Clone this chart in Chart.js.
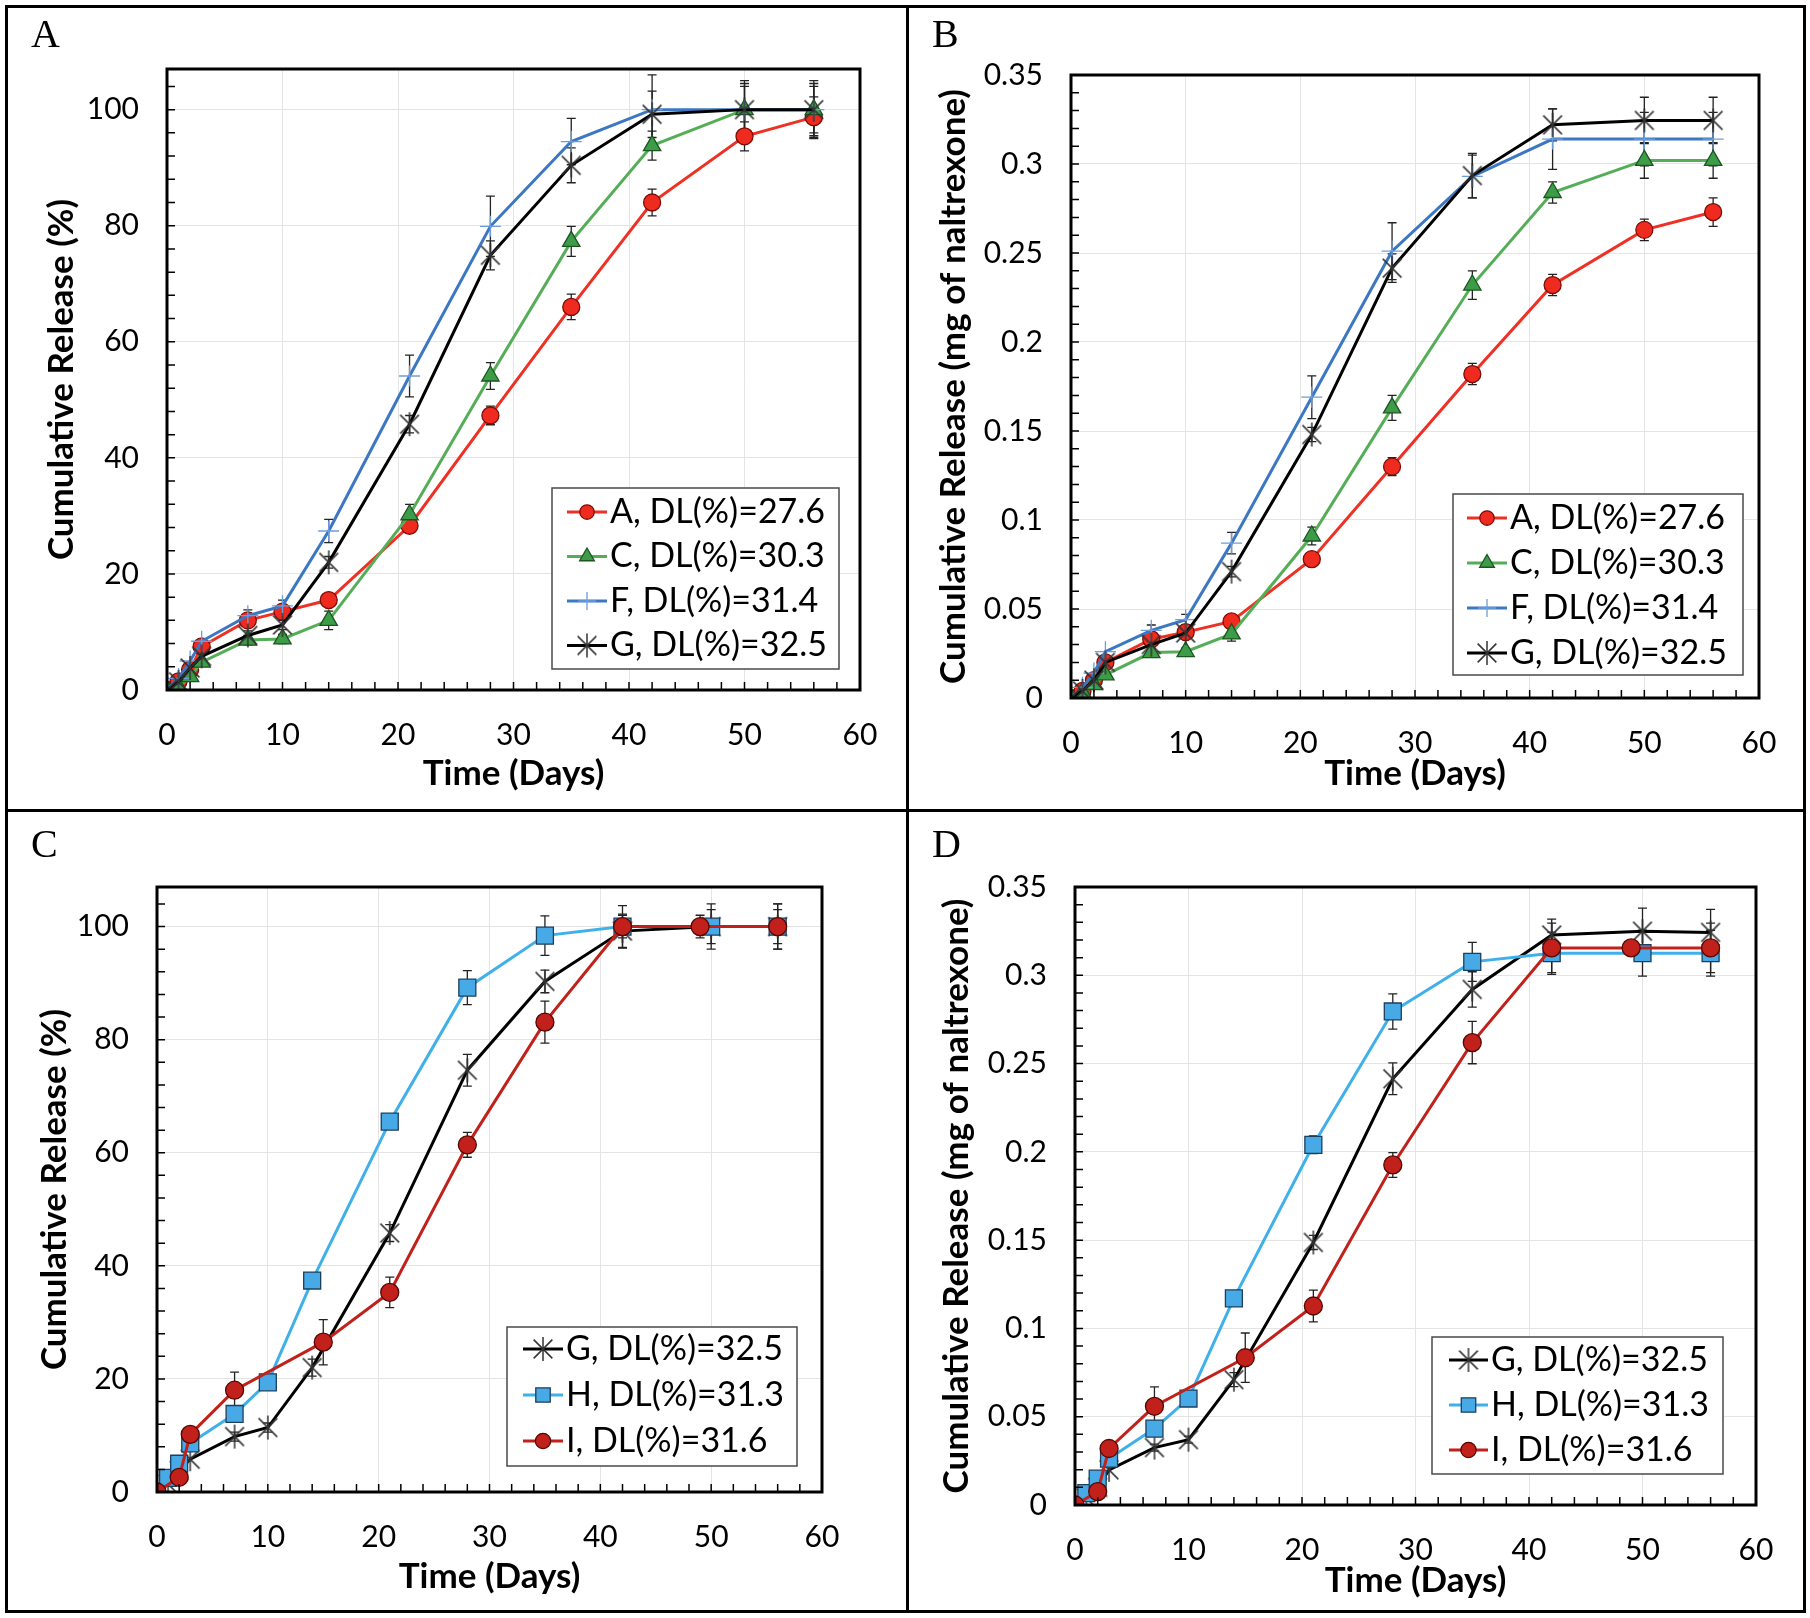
<!DOCTYPE html>
<html>
<head>
<meta charset="utf-8">
<script src="https://cdn.jsdelivr.net/npm/chart.js@4.4.1/dist/chart.umd.min.js"></script>
<style>
  body { margin: 0; background: #fff; }
  #page { position: relative; width: 1810px; height: 1618px; background: #fff; }
  .rule { position: absolute; background: #000; }
  canvas { position: absolute; }
  .tag { position: absolute; font-family: "Liberation Serif", serif; font-size: 40px; color: #000; line-height: 1; }
</style>
</head>
<body>
<div id="page">
  <div class="rule" style="left:5px;top:5px;width:1801px;height:3px"></div>
  <div class="rule" style="left:5px;top:1610px;width:1801px;height:3px"></div>
  <div class="rule" style="left:5px;top:5px;width:3px;height:1608px"></div>
  <div class="rule" style="left:1803px;top:5px;width:3px;height:1608px"></div>
  <div class="rule" style="left:906px;top:5px;width:3px;height:1608px"></div>
  <div class="rule" style="left:5px;top:809px;width:1801px;height:3px"></div>

  <canvas id="cA" width="897" height="800" style="left:8px;top:8px"></canvas>
  <canvas id="cB" width="895" height="800" style="left:909px;top:8px"></canvas>
  <canvas id="cC" width="897" height="797" style="left:8px;top:812px"></canvas>
  <canvas id="cD" width="895" height="797" style="left:909px;top:812px"></canvas>

  <div class="tag" style="left:31px;top:14px">A</div>
  <div class="tag" style="left:932px;top:14px">B</div>
  <div class="tag" style="left:31px;top:824px">C</div>
  <div class="tag" style="left:932px;top:824px">D</div>
</div>
<script>
// sampling days
const days = [0, 1, 2, 3, 7, 10, 14, 21, 28, 35, 42, 50, 56];
const daysI = [0, 2, 3, 7, 15, 21, 28, 35, 42, 49, 56];

// tick values
const xTicks = [0, 10, 20, 30, 40, 50, 60];
const yTicksPct = [0, 20, 40, 60, 80, 100];
const yTicksMg = [0, 0.05, 0.1, 0.15, 0.2, 0.25, 0.3, 0.35];

// legend labels
const labelA = 'A, DL(%)=27.6';
const labelC = 'C, DL(%)=30.3';
const labelF = 'F, DL(%)=31.4';
const labelG = 'G, DL(%)=32.5';
const labelH = 'H, DL(%)=31.3';
const labelI = 'I, DL(%)=31.6';

// panel A: cumulative release (%)
const pctA = [0, 1.5, 3.5, 7.5, 12, 13.5, 15.5, 28.3, 47.3, 66, 84, 95.4, 98.7];
const pctC = [0, 0.5, 2.3, 4.8, 8.6, 8.8, 12, 30.2, 54.1, 77.3, 93.8, 100, 100];
const pctF = [0, 2, 5, 8.4, 12.8, 14.5, 27.4, 54.1, 79.9, 94.5, 100, 100, 100];
const pctG = [0, 1.4, 3.8, 5.8, 9.4, 11.2, 22, 45.8, 74.9, 90.4, 99.2, 100, 100];
const errPctA = [0, 0, 0, 0, 0.8, 0.8, 1, 1, 1.6, 2.2, 2.3, 2.5, 3.5];
const errPctC = [0, 0, 0, 0, 0.8, 0.8, 1.6, 1.8, 2.3, 2.6, 2.5, 4, 4];
const errPctF = [0, 0, 0, 0, 1, 1, 2, 3.6, 5.2, 4, 6, 5, 5];
const errPctG = [0, 0, 0, 0, 0.8, 0.8, 1, 1.5, 2.5, 3, 4, 4.5, 4.5];

// panel B: cumulative release (mg)
const mgA = [0, 0.004, 0.01, 0.02, 0.033, 0.037, 0.043, 0.078, 0.13, 0.182, 0.232, 0.263, 0.273];
const mgC = [0, 0.003, 0.0075, 0.013, 0.0255, 0.026, 0.036, 0.091, 0.163, 0.232, 0.284, 0.302, 0.302];
const mgF = [0, 0.006, 0.014, 0.026, 0.038, 0.044, 0.087, 0.169, 0.251, 0.293, 0.314, 0.314, 0.314];
const mgG = [0, 0.004, 0.01, 0.02, 0.03, 0.0365, 0.071, 0.148, 0.2415, 0.2935, 0.322, 0.3245, 0.3245];
const errMgA = [0, 0, 0, 0, 0.002, 0.002, 0.003, 0.003, 0.005, 0.006, 0.006, 0.006, 0.008];
const errMgC = [0, 0, 0, 0, 0.002, 0.002, 0.004, 0.005, 0.007, 0.008, 0.006, 0.01, 0.01];
const errMgF = [0, 0, 0, 0, 0.003, 0.003, 0.006, 0.012, 0.016, 0.012, 0.017, 0.015, 0.015];
const errMgG = [0, 0, 0, 0, 0.002, 0.002, 0.003, 0.004, 0.008, 0.0125, 0.009, 0.013, 0.013];

// panel C: cumulative release (%)
const pctG2 = [0, 1.4, 3.8, 5.8, 9.8, 11.4, 22, 45.8, 74.6, 90.3, 99.2, 100, 100];
const pctH = [0, 2.5, 5, 8.6, 13.8, 19.4, 37.4, 65.5, 89.2, 98.4, 100, 100, 100];
const pctI = [0, 2.6, 10.2, 18, 26.5, 35.3, 61.4, 83.1, 100, 100, 100];
const errPctG2 = [0, 0, 0, 0, 0.8, 0.8, 1.5, 1.5, 2.8, 2, 3, 3, 3];
const errPctH = [0, 0, 0, 0, 1, 1, 1, 1.2, 3, 3.5, 2, 4, 4];
const errPctI = [0, 0, 0, 3.2, 4, 2.7, 2.2, 3.7, 3.7, 2, 4];

// panel D: cumulative release (mg)
const mgG2 = [0, 0.004, 0.01, 0.0199, 0.0325, 0.037, 0.071, 0.1487, 0.2414, 0.292, 0.3228, 0.325, 0.3243];
const mgH = [0, 0.0067, 0.0149, 0.0263, 0.0433, 0.0603, 0.117, 0.204, 0.2795, 0.3076, 0.3125, 0.3125, 0.3125];
const mgI = [0, 0.0076, 0.032, 0.0559, 0.0834, 0.1127, 0.1926, 0.2619, 0.3155, 0.3155, 0.3155];
const errMgG2 = [0, 0, 0, 0, 0.002, 0.002, 0.004, 0.004, 0.009, 0.01, 0.009, 0.013, 0.013];
const errMgH = [0, 0, 0, 0, 0.002, 0.002, 0.002, 0.005, 0.01, 0.011, 0.012, 0.013, 0.013];
const errMgI = [0, 0, 0, 0.011, 0.014, 0.009, 0.007, 0.012, 0.014, 0.004, 0.014];

Chart.defaults.font.family = 'Lato';
Chart.defaults.color = '#000';

function asterisk(size, color) {
  const c = document.createElement('canvas');
  c.width = c.height = size;
  const g = c.getContext('2d');
  const m = size / 2, r = size / 2 - 1, d = r * 0.78;
  g.strokeStyle = color;
  g.lineWidth = 1.5;
  g.beginPath();
  g.moveTo(m - d, m - d); g.lineTo(m + d, m + d);
  g.moveTo(m + d, m - d); g.lineTo(m - d, m + d);
  g.moveTo(m, m - r); g.lineTo(m, m + r);
  g.stroke();
  return c;
}

const looks = {
  A: { line: '#ee3124', fill: '#ef2b1f', edge: '#7d0d06', shape: 'circle', r: 8.5 },
  C: { line: '#55ae57', fill: '#3d9c47', edge: '#1c5422', shape: 'triangle', r: 10 },
  F: { line: '#3c77c3', fill: '#6d9ddb', edge: '#6d9ddb', shape: 'cross', r: 10.5 },
  G: { line: '#000000', fill: '#333', edge: '#333', shape: asterisk(26, '#333'), r: 12 },
  H: { line: '#3fb0ea', fill: '#47a9e6', edge: '#1c3f5e', shape: 'rect', r: 12 },
  I: { line: '#c1211b', fill: '#c2201a', edge: '#560602', shape: 'circle', r: 9 }
};

function series(key, label, xs, ys, errs) {
  const s = looks[key];
  return {
    label: label,
    errors: errs,
    data: xs.map((x, i) => ({ x: x, y: ys[i] })),
    showLine: true,
    borderColor: s.line,
    backgroundColor: s.fill,
    borderWidth: 3,
    pointStyle: s.shape,
    pointRadius: s.r,
    pointHoverRadius: s.r,
    pointBackgroundColor: s.fill,
    pointBorderColor: s.edge,
    pointBorderWidth: 1.3,
    tension: 0
  };
}

const errorBars = {
  id: 'errorBars',
  beforeDatasetsDraw(chart) {
    const { ctx, scales: { x, y } } = chart;
    ctx.save();
    ctx.strokeStyle = '#222';
    ctx.lineWidth = 1.3;
    chart.data.datasets.forEach(ds => {
      (ds.errors || []).forEach((e, i) => {
        if (!e) return;
        const p = ds.data[i];
        const px = x.getPixelForValue(p.x);
        const lo = y.getPixelForValue(p.y - e);
        const hi = y.getPixelForValue(p.y + e);
        ctx.beginPath();
        ctx.moveTo(px, lo); ctx.lineTo(px, hi);
        ctx.moveTo(px - 4.5, lo); ctx.lineTo(px + 4.5, lo);
        ctx.moveTo(px - 4.5, hi); ctx.lineTo(px + 4.5, hi);
        ctx.stroke();
      });
    });
    ctx.restore();
  }
};

const frame = {
  id: 'frame',
  afterDatasetsDraw(chart, args, opts) {
    const { ctx, chartArea: a, scales: { x, y } } = chart;
    ctx.save();
    ctx.strokeStyle = '#000';
    ctx.lineWidth = 1.5;
    ctx.beginPath();
    for (let i = 0; i * opts.xMinor <= x.max + 1e-9; i++) {
      const px = x.getPixelForValue(i * opts.xMinor);
      ctx.moveTo(px, a.bottom); ctx.lineTo(px, a.bottom - 8);
    }
    for (let i = 0; i * opts.yMinor <= y.max + 1e-9; i++) {
      const py = y.getPixelForValue(i * opts.yMinor);
      ctx.moveTo(a.left, py); ctx.lineTo(a.left + 8, py);
    }
    ctx.stroke();
    ctx.lineWidth = 3;
    ctx.strokeRect(a.left, a.top, a.right - a.left, a.bottom - a.top);
    ctx.restore();
  }
};

const boxLegend = {
  id: 'boxLegend',
  afterDraw(chart, args, o) {
    const ctx = chart.ctx;
    ctx.save();
    ctx.fillStyle = '#fff';
    ctx.fillRect(o.left, o.top, o.width, o.height);
    ctx.strokeStyle = '#4a4a4a';
    ctx.lineWidth = 1.5;
    ctx.strokeRect(o.left, o.top, o.width, o.height);
    ctx.font = '34px Lato';
    ctx.textBaseline = 'middle';
    chart.data.datasets.forEach((ds, i) => {
      const cy = o.top + o.firstRow + i * o.rowH;
      const x0 = o.left + o.sampleX;
      ctx.strokeStyle = ds.borderColor;
      ctx.lineWidth = 3;
      ctx.beginPath(); ctx.moveTo(x0, cy); ctx.lineTo(x0 + o.sampleW, cy); ctx.stroke();
      ctx.fillStyle = ds.pointBackgroundColor;
      ctx.strokeStyle = ds.pointBorderColor;
      ctx.lineWidth = ds.pointBorderWidth;
      Chart.helpers.drawPoint(ctx, { pointStyle: ds.pointStyle, radius: ds.pointRadius * 0.85, rotation: 0, borderWidth: ds.pointBorderWidth }, x0 + o.sampleW / 2, cy);
      ctx.fillStyle = '#000';
      ctx.fillText(ds.label, x0 + o.sampleW + 3, cy);
    });
    ctx.restore();
  }
};

function fmtMg(v) { return String(+v.toFixed(2)); }

function makePanel(id, datasets, p) {
  datasets.forEach((ds, i) => { ds.order = datasets.length - i; });
  new Chart(document.getElementById(id), {
    type: 'scatter',
    data: { datasets: datasets },
    plugins: [errorBars, frame, boxLegend],
    options: {
      responsive: false,
      animation: false,
      layout: { padding: p.pad },
      plugins: {
        legend: { display: false },
        tooltip: { enabled: false },
        frame: { xMinor: 2, yMinor: p.yMinor },
        boxLegend: p.legend
      },
      scales: {
        x: {
          type: 'linear', min: 0, max: 60,
          afterBuildTicks: s => { s.ticks = xTicks.map(v => ({ value: v })); },
          afterFit: s => { s.height = p.xh; },
          grid: { color: '#e4e4e4', lineWidth: 1, drawTicks: false },
          border: { display: false },
          ticks: { padding: 27, font: { size: 30 }, color: '#000', maxRotation: 0 },
          title: { display: true, text: 'Time (Days)', padding: 0, font: { size: 35, weight: 'bold' }, color: '#000' }
        },
        y: {
          type: 'linear', min: 0, max: p.yMax,
          afterBuildTicks: s => { s.ticks = p.yTicks.map(v => ({ value: v })); },
          afterFit: s => { s.width = p.yw; },
          grid: { color: '#e4e4e4', lineWidth: 1, drawTicks: false },
          border: { display: false },
          ticks: { padding: 28, font: { size: 30 }, color: '#000', callback: p.fmt },
          title: { display: true, text: p.yTitle, padding: 0, font: { size: 35, weight: 'bold' }, color: '#000' }
        }
      }
    }
  });
}

makePanel('cA', [
  series('A', labelA, days, pctA, errPctA),
  series('C', labelC, days, pctC, errPctC),
  series('F', labelF, days, pctF, errPctF),
  series('G', labelG, days, pctG, errPctG)
], {
  yTitle: 'Cumulative Release (%)', yMax: 107, yTicks: yTicksPct, yMinor: 4, fmt: v => v,
  yw: 126.4, xh: 104.4, pad: { left: 32.6, top: 61, right: 45, bottom: 13.6 },
  legend: { left: 544, top: 480, width: 287, height: 181, firstRow: 24, rowH: 44.5, sampleX: 15, sampleW: 40 }
});

makePanel('cB', [
  series('A', labelA, days, mgA, errMgA),
  series('C', labelC, days, mgC, errMgC),
  series('F', labelF, days, mgF, errMgF),
  series('G', labelG, days, mgG, errMgG)
], {
  yTitle: 'Cumulative Release (mg of naltrexone)', yMax: 0.35, yTicks: yTicksMg, yMinor: 0.01, fmt: fmtMg,
  yw: 138.4, xh: 96.4, pad: { left: 23.6, top: 67, right: 45, bottom: 13.6 },
  legend: { left: 544, top: 486, width: 290, height: 181, firstRow: 24, rowH: 45, sampleX: 14, sampleW: 40 }
});

makePanel('cC', [
  series('G', labelG, days, pctG2, errPctG2),
  series('H', labelH, days, pctH, errPctH),
  series('I', labelI, daysI, pctI, errPctI)
], {
  yTitle: 'Cumulative Release (%)', yMax: 107, yTicks: yTicksPct, yMinor: 4, fmt: v => v,
  yw: 123.7, xh: 105.4, pad: { left: 25.3, top: 75, right: 83, bottom: 11.6 },
  legend: { left: 499, top: 515, width: 290, height: 139, firstRow: 22, rowH: 46, sampleX: 16, sampleW: 40 }
});

makePanel('cD', [
  series('G', labelG, days, mgG2, errMgG2),
  series('H', labelH, days, mgH, errMgH),
  series('I', labelI, daysI, mgI, errMgI)
], {
  yTitle: 'Cumulative Release (mg of naltrexone)', yMax: 0.35, yTicks: yTicksMg, yMinor: 0.01, fmt: fmtMg,
  yw: 139.5, xh: 96.4, pad: { left: 26.5, top: 75, right: 48, bottom: 7.6 },
  legend: { left: 523, top: 525, width: 291, height: 137, firstRow: 23, rowH: 45, sampleX: 17, sampleW: 39 }
});
</script>
</body>
</html>
